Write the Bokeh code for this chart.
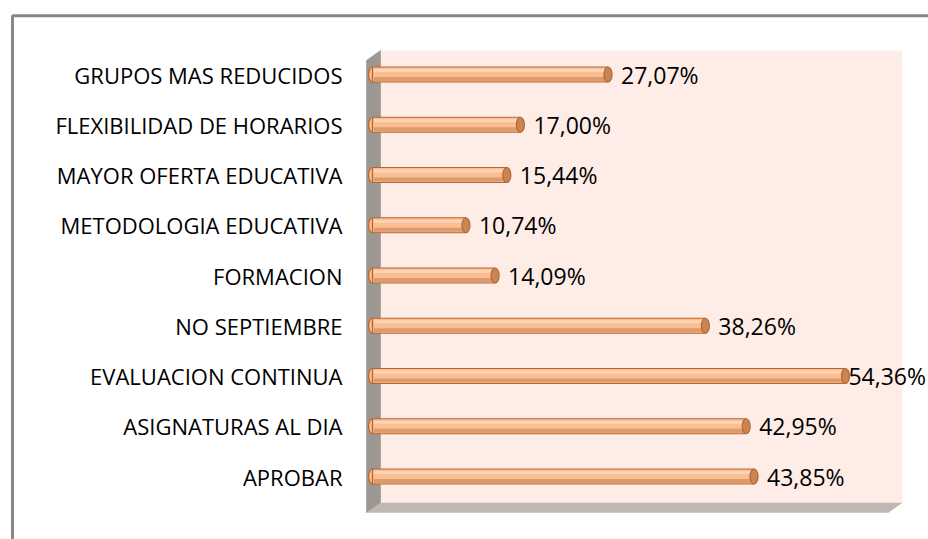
from bokeh.plotting import figure
from bokeh.models import Range1d, ColumnDataSource
from bokeh.core.properties import value
from bokeh.embed import file_html
from bokeh.resources import INLINE

# ---- data (bottom to top) ----
categories = ["APROBAR", "ASIGNATURAS AL DIA", "EVALUACION CONTINUA", "NO SEPTIEMBRE",
              "FORMACION", "METODOLOGIA EDUCATIVA", "MAYOR OFERTA EDUCATIVA",
              "FLEXIBILIDAD DE HORARIOS", "GRUPOS MAS REDUCIDOS"]
values = [43.85, 42.95, 54.36, 38.26, 14.09, 10.74, 15.44, 17.00, 27.07]
labels = ["43,85%", "42,95%", "54,36%", "38,26%", "14,09%", "10,74%", "15,44%", "17,00%", "27,07%"]
axis_max = 60

W, H = 928, 539
# pixel geometry of the plot (canvas px)
PX0 = 372.0      # x pixel of value 0
PXS = 8.7        # px per percent
PY0 = 476.0      # y pixel of first category centre
PYS = 50.25      # px per category

xr = Range1d(-PX0 / PXS, (W - PX0) / PXS)
yr = Range1d((PY0 - H) / PYS, PY0 / PYS)

p = figure(width=W, height=H, x_range=xr, y_range=yr, output_backend="svg",
           toolbar_location=None, x_axis_location=None, y_axis_location=None,
           min_border=0, outline_line_color=None, background_fill_color="white",
           border_fill_color="white")
p.grid.visible = False

def dx(px):
    return px / PXS

def dy(px):
    return px / PYS

n = len(categories)
X0, X1 = 0, axis_max
Y0, Y1 = -0.5, n - 0.5
bx, by = dx(8), dy(-1)      # back plane offset
fx, fy = dx(-6), dy(-11)    # front plane offset

# back wall
p.patch([X0 + bx, X1 + bx, X1 + bx, X0 + bx], [Y0 + by, Y0 + by, Y1 + by, Y1 + by],
        fill_color="#FDEDE6", line_color=None)
# left wall
p.patch([X0 + fx, X0 + bx, X0 + bx, X0 + fx], [Y0 + fy, Y0 + by, Y1 + by, Y1 + fy],
        fill_color="#9D9794", line_color="#8A8481", line_width=0.5)
# floor
p.patch([X0 + fx, X1 + fx, X1 + bx, X0 + bx], [Y0 + fy, Y0 + fy, Y0 + by, Y0 + by],
        fill_color="#C0B7B3", line_color=None)

# outer frame (top & left sides visible)
fxl = (12 - PX0) / PXS
fyt = (PY0 - 15.3) / PYS
p.line([fxl, fxl, xr.end + 5], [yr.start - 1, fyt, fyt], line_color="#878787", line_width=3)

ys = list(range(n))
# label offset: normal gap, but pulled in when the label would run off the canvas
LABEL_FS = 23
est_w = [len(s) * 0.56 * LABEL_FS for s in labels]
offs = [max(3, min(13, W - 3 - (PX0 + v * PXS) - w)) for v, w in zip(values, est_w)]

src = ColumnDataSource(dict(y=ys, v=values, lab=labels, cat=categories, off=offs,
                            ylo=[y - dy(4.5) for y in ys], yhi=[y + dy(4.0) for y in ys]))

bh = dy(15)
# left rounded end
p.ellipse(x=0, y="y", width=8, height=15, width_units="screen", height_units="screen",
          source=src, fill_color="#F8BA8E", line_color="#B8662F", line_width=1.2)
# body
p.hbar(y="y", left=0, right="v", height=bh, source=src, fill_color="#FABE93",
       line_color="#B8662F", line_width=1.2)
p.hbar(y="yhi", left=0.15, right="v", height=dy(3), source=src, fill_color="#FDD4B6",
       line_color=None)
p.hbar(y="ylo", left=0.15, right="v", height=dy(4), source=src, fill_color="#DC9A6D",
       line_color=None)
# right end cap
p.ellipse(x="v", y="y", width=8, height=15, width_units="screen", height_units="screen",
          source=src, fill_color="#C98552", line_color="#B8662F", line_width=1.2)

# value labels
p.text(x="v", y="y", text="lab", source=src, x_offset="off", text_align="left",
       text_baseline="middle", text_font=value("Open Sans"), text_font_size=f"{LABEL_FS}px",
       text_color="black")
# category labels
p.text(x=0, y="y", text="cat", source=src, x_offset=-30, text_align="right",
       text_baseline="middle", text_font=value("Open Sans"), text_font_size="22px",
       text_color="black")

open("out.html", "w").write(file_html(p, INLINE))
